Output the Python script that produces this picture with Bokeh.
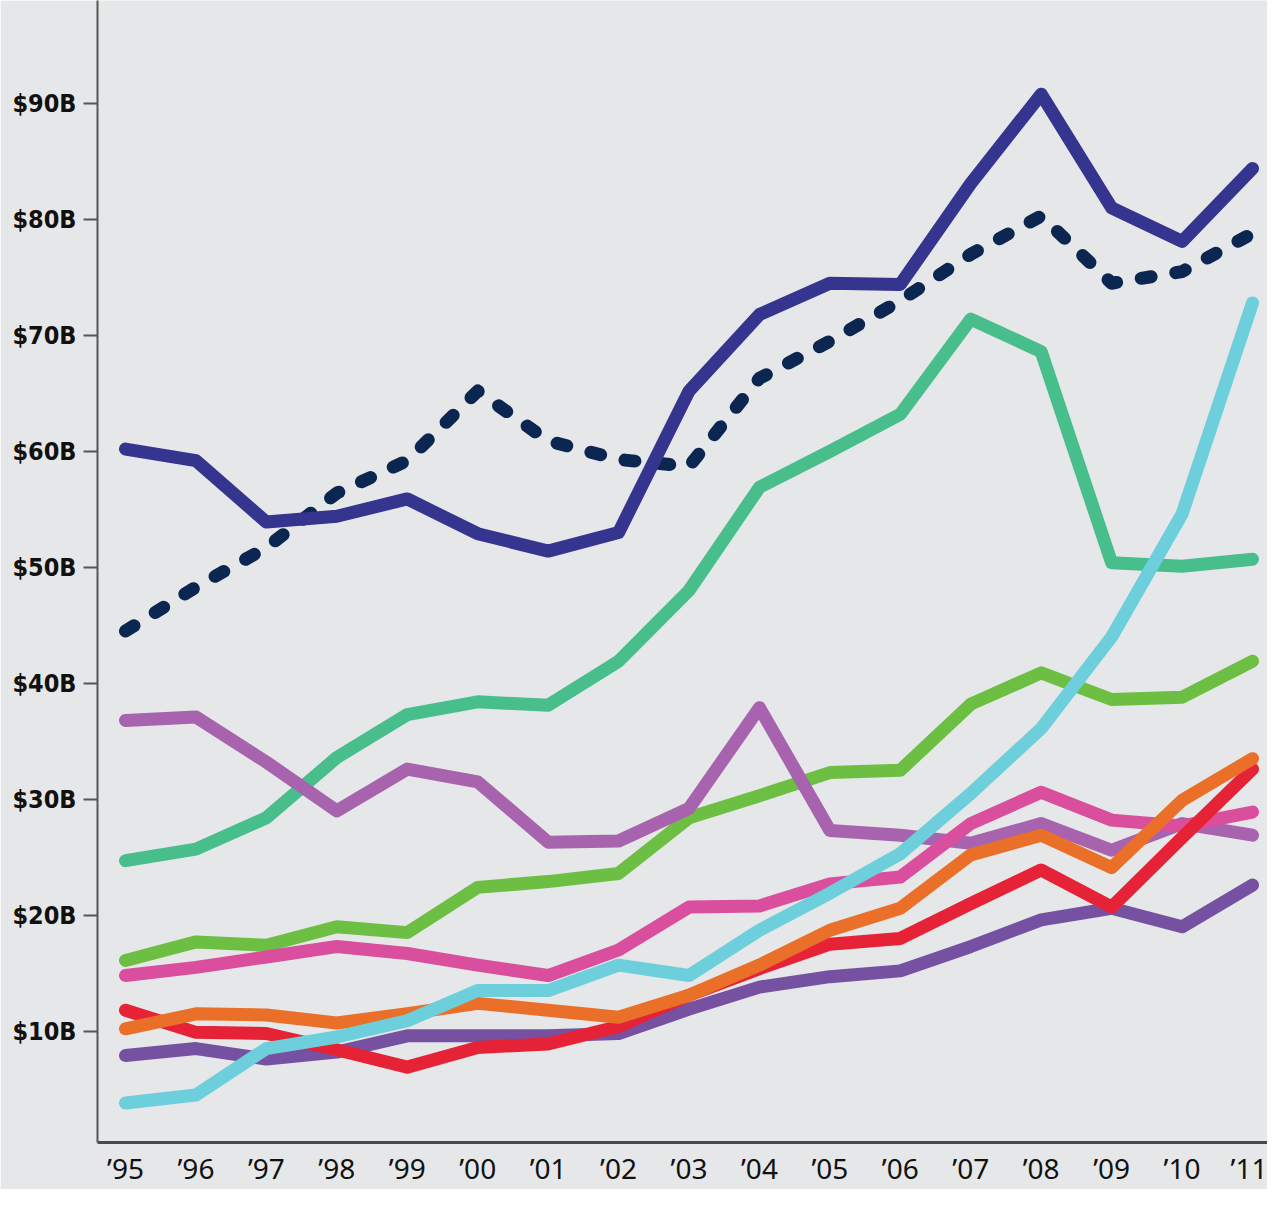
from bokeh.plotting import figure
from bokeh.models import Range1d, FixedTicker
from bokeh.embed import file_html
from bokeh.resources import INLINE

# ---- data -------------------------------------------------------------
YEARS = ["\u201995", "\u201996", "\u201997", "\u201998", "\u201999", "\u201900",
         "\u201901", "\u201902", "\u201903", "\u201904", "\u201905", "\u201906",
         "\u201907", "\u201908", "\u201909", "\u201910", "\u201911"]

Y_TICKS = [10, 20, 30, 40, 50, 60, 70, 80, 90]
Y_LABELS = ["$10B", "$20B", "$30B", "$40B", "$50B", "$60B", "$70B", "$80B", "$90B"]

navy_solid = [60.2, 59.2, 53.9, 54.4, 55.9, 52.9, 51.4, 53.0, 65.2, 71.8, 74.5, 74.4, 83.1, 90.8, 81.0, 78.1, 84.4]
navy_dashed = [44.5, 48.3, 51.7, 56.4, 59.2, 65.2, 60.9, 59.3, 58.7, 66.3, 69.5, 73.0, 77.0, 80.3, 74.5, 75.5, 78.8]
teal = [24.7, 25.7, 28.4, 33.6, 37.3, 38.4, 38.1, 41.9, 48.0, 56.9, 60.0, 63.2, 71.4, 68.6, 50.4, 50.1, 50.7]
green = [16.1, 17.7, 17.4, 19.0, 18.5, 22.4, 22.9, 23.6, 28.4, 30.3, 32.3, 32.5, 38.2, 40.9, 38.6, 38.8, 41.9]
lilac = [36.8, 37.1, 33.2, 29.0, 32.6, 31.5, 26.3, 26.4, 29.2, 37.9, 27.3, 26.9, 26.2, 27.9, 25.6, 27.9, 26.9]
pink = [14.8, 15.5, 16.4, 17.3, 16.7, 15.7, 14.8, 17.0, 20.7, 20.8, 22.7, 23.3, 27.9, 30.6, 28.2, 27.7, 28.9]
purple = [7.9, 8.5, 7.6, 8.2, 9.6, 9.6, 9.6, 9.8, 11.9, 13.8, 14.7, 15.2, 17.3, 19.6, 20.6, 19.0, 22.6]
red = [11.8, 9.9, 9.8, 8.4, 6.9, 8.6, 8.9, 10.4, 13.1, 15.4, 17.5, 18.0, 21.0, 23.9, 20.7, 26.7, 32.6]
orange = [10.2, 11.5, 11.4, 10.7, 11.5, 12.4, 11.8, 11.2, 13.1, 15.7, 18.7, 20.6, 25.2, 26.9, 24.1, 29.9, 33.5]
cyan = [3.8, 4.5, 8.5, 9.5, 10.9, 13.5, 13.5, 15.7, 14.8, 18.7, 21.9, 25.3, 30.5, 36.1, 44.0, 54.6, 72.8]

# ---- figure -----------------------------------------------------------
BG = "#e6e7e8"
xs = list(range(len(YEARS)))

p = figure(width=1267, height=1189,
           x_range=Range1d(-0.3975, 16.213), y_range=Range1d(0.4, 98.88),
           output_backend="svg", toolbar_location=None,
           min_border_left=97, min_border_right=0,
           min_border_top=0, min_border_bottom=41)
p.background_fill_color = BG
p.border_fill_color = BG
p.outline_line_color = None
p.xgrid.grid_line_color = None
p.ygrid.grid_line_color = None

series = [
    (teal, "#48be8d", None),
    (green, "#6cbf42", None),
    (lilac, "#a863ae", None),
    (pink, "#da4e9e", None),
    (purple, "#7651a2", None),
    (red, "#e62336", None),
    (orange, "#ea7029", None),
    (cyan, "#6dcfdc", None),
    (navy_dashed, "#0b2650", "10 25"),
    (navy_solid, "#35348f", None),
]
for ys, col, dash in series:
    kw = dict(line_color=col, line_width=13, line_cap="round", line_join="round")
    if dash:
        kw["line_dash"] = dash
    p.line(xs, ys, **kw)

# x axis
p.xaxis.ticker = FixedTicker(ticks=xs)
p.xaxis.major_label_overrides = {i: t for i, t in zip(xs, YEARS)}
p.xaxis.major_tick_line_color = None
p.xaxis.minor_tick_line_color = None
p.xaxis.major_tick_out = 0
p.xaxis.major_tick_in = 0
p.xaxis.axis_line_color = "#4a4a4a"
p.xaxis.axis_line_width = 3
p.xaxis.major_label_text_font = "Noto Sans"
p.xaxis.major_label_text_font_size = "28px"
p.xaxis.major_label_text_color = "#111111"
p.xaxis.major_label_standoff = 6

# y axis
p.yaxis.ticker = FixedTicker(ticks=Y_TICKS)
p.yaxis.major_label_overrides = {t: l for t, l in zip(Y_TICKS, Y_LABELS)}
p.yaxis.minor_tick_line_color = None
p.yaxis.major_tick_in = 0
p.yaxis.major_tick_out = 14
p.yaxis.major_tick_line_color = "#555555"
p.yaxis.major_tick_line_width = 2
p.yaxis.axis_line_color = "#555555"
p.yaxis.axis_line_width = 2
p.yaxis.major_label_text_font = "DejaVu Sans Condensed, Roboto"
p.yaxis.major_label_text_font_style = "bold"
p.yaxis.major_label_text_font_size = "25px"
p.yaxis.major_label_text_color = "#111111"
p.yaxis.major_label_standoff = 7

open("out.html", "w").write(file_html(p, INLINE))
